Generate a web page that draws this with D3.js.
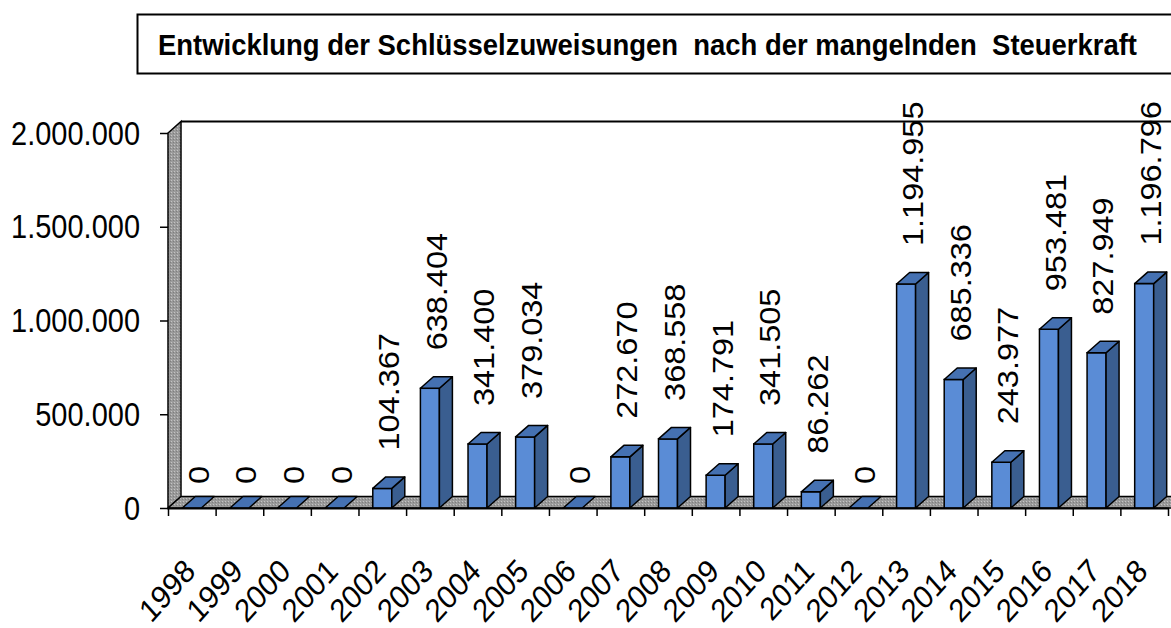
<!DOCTYPE html>
<html>
<head>
<meta charset="utf-8">
<script src="https://cdn.jsdelivr.net/npm/d3@7"></script>
<style>
  body { margin: 0; background: #fff; }
  text { font-family: "Liberation Sans", Arial, sans-serif; fill: #000; }
</style>
</head>
<body>
<svg id="chart" width="1171" height="628"></svg>
<script>
'use strict'

// data
const years = ["1998", "1999", "2000", "2001", "2002", "2003", "2004", "2005", "2006", "2007", "2008",
  "2009", "2010", "2011", "2012", "2013", "2014", "2015", "2016", "2017", "2018"]
const values = [0, 0, 0, 0, 104367, 638404, 341400, 379034, 0, 272670, 368558,
  174791, 341505, 86262, 0, 1194955, 685336, 243977, 953481, 827949, 1196796]
const yTicks = [0, 500000, 1000000, 1500000, 2000000]
const title = "Entwicklung der Schlüsselzuweisungen  nach der mangelnden  Steuerkraft"

// german number format (1.194.955)
const de = d3.formatLocale({decimal: ",", thousands: ".", grouping: [3], currency: ["", " €"]})
const fmt = de.format(",.0f")

const plotLeft = 168, plotRight = 1168, plotBottom = 508, plotTop = 133
const depthX = 13, depthY = 11.5 // 3d offset of the back plane
const stretch = 1.12 // text in the picture is a bit taller than wide
const barW = 19

const svg = d3.select('#chart')

// x scale (bands) and y scale
const x = d3.scaleBand().domain(years).range([plotLeft, plotRight])
const y = d3.scaleLinear().domain([0, 2000000]).range([plotBottom, plotTop])
const xIdx = d3.scaleLinear().domain([0, years.length]).range([plotLeft, plotRight]) // for tick marks between bands

// title box
svg.append("rect")
  .attr("x", 137.5).attr("y", 14.5)
  .attr("width", 1100).attr("height", 59)
  .attr("fill", "#fff").attr("stroke", "#000").attr("stroke-width", 2)
svg.append("text")
  .attr("transform", "translate(158,55) scale(1,1.08)")
  .attr("textLength", 979).attr("lengthAdjust", "spacingAndGlyphs")
  .style("font-family", "'Liberation Sans Narrow', 'Liberation Sans', Arial, sans-serif")
  .style("font-weight", "bold").style("font-size", "28px").style("white-space", "pre")
  .text(title)

// floor texture
const defs = svg.append("defs")
const pat = defs.append("pattern").attr("id", "grain")
  .attr("width", 3).attr("height", 3).attr("patternUnits", "userSpaceOnUse")
pat.append("rect").attr("width", 3).attr("height", 3).attr("fill", "#9a9a9a")
pat.append("rect").attr("width", 1).attr("height", 1).attr("fill", "#c4c4c4")
pat.append("rect").attr("x", 2).attr("y", 1).attr("width", 1).attr("height", 1).attr("fill", "#7e7e7e")

// back wall top edge
svg.append("line")
  .attr("x1", plotLeft + depthX).attr("x2", 1171)
  .attr("y1", y(2000000) - depthY).attr("y2", y(2000000) - depthY)
  .attr("stroke", "#000").attr("stroke-width", 2)

// left side wall
svg.append("polygon")
  .attr("points", [[plotLeft, y(0)], [plotLeft, y(2000000)], [plotLeft + depthX, y(2000000) - depthY], [plotLeft + depthX, y(0) - depthY]].join(" "))
  .attr("fill", "url(#grain)").attr("stroke", "#000").attr("stroke-width", 1.5)

// floor
svg.append("polygon")
  .attr("points", [[plotLeft, y(0)], [plotLeft + depthX, y(0) - depthY], [1200, y(0) - depthY], [1200, y(0)]].join(" "))
  .attr("fill", "url(#grain)").attr("stroke", "#000").attr("stroke-width", 1.5)

// bars
const bars = svg.selectAll(".bar")
  .data(years.map((yr, i) => ({year: yr, value: values[i]})))
  .enter().append("g")
  .attr("class", "bar")

const x0 = d => x(d.year) + x.bandwidth() / 2 - barW / 2

bars.append("rect") // front face
  .attr("x", x0)
  .attr("y", d => y(d.value))
  .attr("width", barW)
  .attr("height", d => y(0) - y(d.value))
  .attr("fill", "#5a8cd6").attr("stroke", "#000").attr("stroke-width", 1.5)

bars.filter(d => d.value > 0).append("polygon") // side face
  .attr("points", d => {
    const xr = x0(d) + barW, yt = y(d.value)
    return [[xr, y(0)], [xr + depthX, y(0) - depthY], [xr + depthX, yt - depthY], [xr, yt]].join(" ")
  })
  .attr("fill", "#3a5e90").attr("stroke", "#000").attr("stroke-width", 1.5).attr("stroke-linejoin", "round")

bars.append("polygon") // top face
  .attr("points", d => {
    const xl = x0(d), yt = y(d.value)
    return [[xl, yt], [xl + depthX, yt - depthY], [xl + barW + depthX, yt - depthY], [xl + barW, yt]].join(" ")
  })
  .attr("fill", "#4571b2").attr("stroke", "#000").attr("stroke-width", 1.5).attr("stroke-linejoin", "round")

// x axis line + tick marks between categories
const xAxis = svg.append("g")
  .attr("transform", "translate(0," + y(0) + ")")
  .call(d3.axisBottom(xIdx).tickValues(d3.range(years.length + 1)).tickSize(8).tickSizeOuter(0).tickFormat(""))
xAxis.select(".domain").attr("stroke-width", 2)
xAxis.selectAll(".tick line").attr("stroke-width", 1.5)

// x tick labels, slanted (kept just inside the bottom edge)
svg.selectAll(".xlab")
  .data(years)
  .enter().append("text")
  .attr("class", "xlab")
  .attr("transform", d => "translate(" + (x(d) + x.bandwidth() / 2 + 5) + ",573) scale(1," + stretch + ") rotate(-45)")
  .attr("text-anchor", "end")
  .style("font-size", "29px")
  .text(d => d)

// y axis
const yAxis = svg.append("g")
  .attr("transform", "translate(" + plotLeft + ",0)")
  .call(d3.axisLeft(y).tickValues(yTicks).tickSize(8).tickPadding(20).tickFormat(fmt))
yAxis.select(".domain").remove()
yAxis.selectAll(".tick line").attr("stroke-width", 1.5)
yAxis.selectAll(".tick text")
  .attr("dy", null).attr("y", null)
  .attr("dominant-baseline", "central")
  .attr("transform", "scale(1," + stretch + ")")
  .style("font-size", "29px").style("font-family", "'Liberation Sans', Arial, sans-serif")

// data labels, rotated
svg.selectAll(".vlab")
  .data(years.map((yr, i) => ({year: yr, value: values[i]})))
  .enter().append("text")
  .attr("class", "vlab")
  .attr("transform", d => "translate(" + (x(d.year) + x.bandwidth() / 2 + 7) + "," + (y(d.value) - (d.value > 0 ? 38 : 24)) + ") scale(1," + stretch + ") rotate(-90)")
  .attr("text-anchor", "start")
  .attr("dominant-baseline", "central")
  .style("font-size", "29px")
  .text(d => fmt(d.value))
</script>
</body>
</html>
